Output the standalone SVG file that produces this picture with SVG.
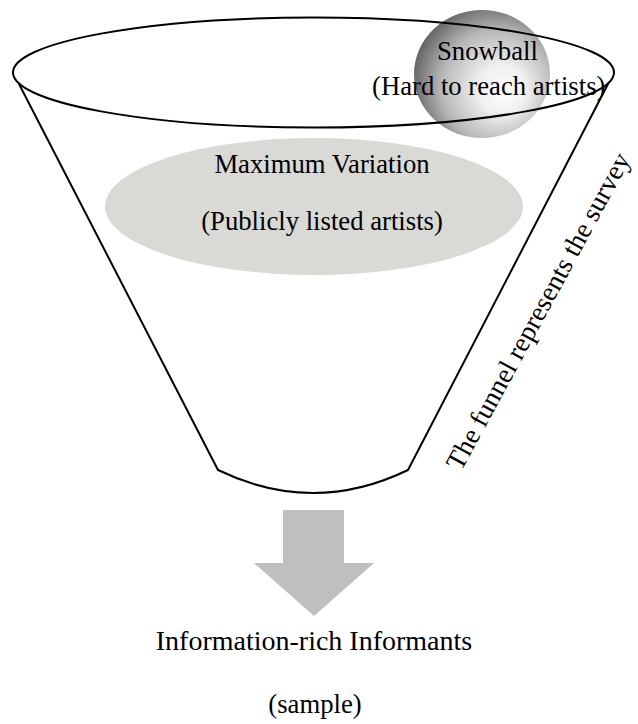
<svg xmlns="http://www.w3.org/2000/svg" width="638" height="724" viewBox="0 0 638 724">
  <defs>
    <radialGradient id="sphereGrad" gradientUnits="userSpaceOnUse" cx="494" cy="84" r="80" fx="506" fy="92">
      <stop offset="0" stop-color="#ffffff"/>
      <stop offset="0.3" stop-color="#f0f0f0"/>
      <stop offset="0.7" stop-color="#b8b8b8"/>
      <stop offset="1" stop-color="#6a6a6a"/>
    </radialGradient>
  </defs>
  <style>
    .lbl { font-family: "Liberation Serif", "Times New Roman", serif; font-size: 26.7px; fill: #000; }
    .line { fill: none; stroke: #000; stroke-width: 2; stroke-linejoin: round; }
  </style>
  <rect x="0" y="0" width="638" height="724" fill="#ffffff"/>

  <g id="maxvar">
    <ellipse cx="314" cy="206.5" rx="209" ry="68.5" fill="#d9d9d5"/>
  </g>

  <g id="snowball">
    <ellipse cx="482" cy="74" rx="68" ry="64" fill="url(#sphereGrad)"/>
  </g>

  <g id="funnel">
    <ellipse class="line" cx="313.5" cy="72.5" rx="300.5" ry="55"/>
    <path class="line" d="M18.5,83 L218,470 Q313,516 408,470 L608.5,83"/>
  </g>

  <g id="connectors">
    <polygon points="283,510 344,510 344,563 374,563 314,616 254,563 283,563" fill="#bfbfbf"/>
  </g>

  <g id="labels">
    <text class="lbl" x="437" y="60">Snowball</text>
    <text class="lbl" x="372" y="95">(Hard to reach artists)</text>
    <text class="lbl" x="322" y="173" text-anchor="middle">Maximum Variation</text>
    <text class="lbl" x="322" y="230" text-anchor="middle">(Publicly listed artists)</text>
    <text class="lbl" transform="translate(461,472) rotate(-61.5)" style="font-size:27.3px">The funnel represents the survey</text>
    <text class="lbl" x="314" y="650" text-anchor="middle" style="font-size:28px">Information-rich Informants</text>
    <text class="lbl" x="315" y="713" text-anchor="middle">(sample)</text>
  </g>
</svg>
